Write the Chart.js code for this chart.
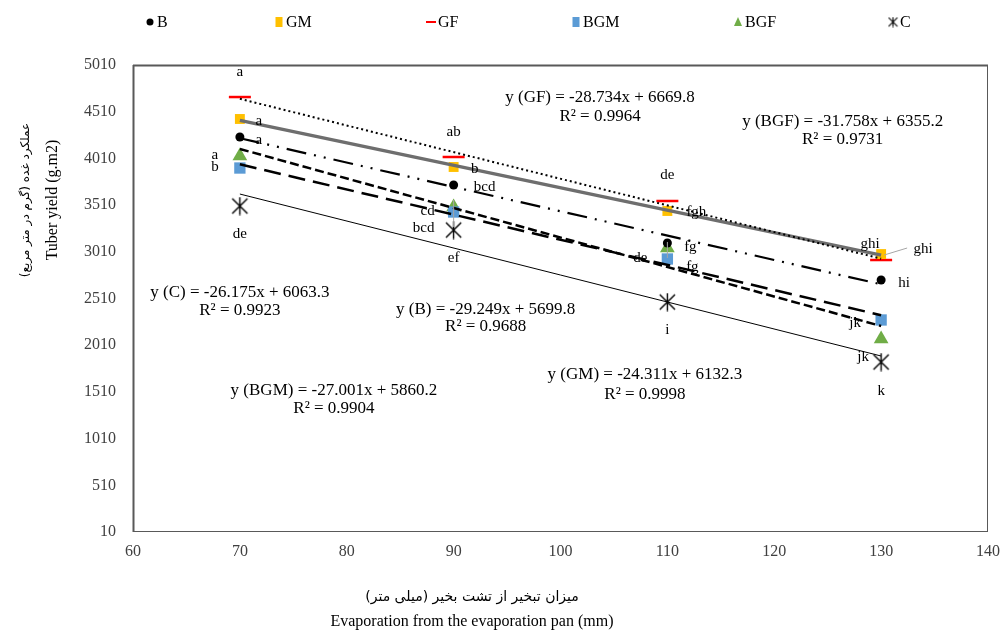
<!DOCTYPE html>
<html>
<head>
<meta charset="utf-8">
<script src="https://cdn.jsdelivr.net/npm/chart.js@4.4.0/dist/chart.umd.min.js"></script>
<style>
  html, body { margin: 0; padding: 0; background: #fff; }
</style>
</head>
<body>
<canvas id="chart" width="1004" height="633"></canvas>
<script>
// evaporation (mm) and tuber yield per treatment
const evap = [70, 90, 110, 130];
const seriesNames = ['B', 'GM', 'GF', 'BGM', 'BGF', 'C'];
const yieldB = [4239, 3725, 3104, 2708];
const yieldGM = [4432, 3918, 3447, 2986];
const yieldGF = [4667, 4025, 3554, 2922];
const yieldBGM = [3907, 3436, 2933, 2280];
const yieldBGF = [4036, 3490, 3051, 2076];
const yieldC = [3500, 3243, 2472, 1830];

// mean comparison letters, one per point
const lettersB = ['a', 'bcd', 'fg', 'hi'];
const lettersGM = ['a', 'b', 'fgh', 'ghi'];
const lettersGF = ['a', 'ab', 'de', 'ghi'];
const lettersBGM = ['b', 'bcd', 'de', 'jk'];
const lettersBGF = ['a', 'cd', 'fg', 'jk'];
const lettersC = ['de', 'ef', 'i', 'k'];

// trendline equations as printed on the chart
const eqGF = ['y (GF) = -28.734x + 6669.8', 'R² = 0.9964'];
const eqBGF = ['y (BGF) = -31.758x + 6355.2', 'R² = 0.9731'];
const eqC = ['y (C) = -26.175x + 6063.3', 'R² = 0.9923'];
const eqB = ['y (B) = -29.249x + 5699.8', 'R² = 0.9688'];
const eqGM = ['y (GM) = -24.311x + 6132.3', 'R² = 0.9998'];
const eqBGM = ['y (BGM) = -27.001x + 5860.2', 'R² = 0.9904'];

const xTicks = [60, 70, 80, 90, 100, 110, 120, 130, 140];
const yTicks = [10, 510, 1010, 1510, 2010, 2510, 3010, 3510, 4010, 4510, 5010];

const yTitle = 'Tuber yield (g.m2)';
const yTitleFa = 'عملکرد غده (گرم در متر مربع)';
const xTitle = 'Evaporation from the evaporation pan (mm)';
const xTitleFa = 'میزان تبخیر از تشت بخیر (میلی متر)';

const SERIF = '"Liberation Serif", "Times New Roman", "DejaVu Sans", serif';
const FA = '"DejaVu Sans", "Noto Sans", sans-serif';

function makeStar(size, lw) {
  const c = document.createElement('canvas');
  c.width = size; c.height = size;
  const g = c.getContext('2d');
  g.strokeStyle = '#000';
  g.lineWidth = lw;
  const m = size / 2, d = size * 0.4;
  g.beginPath();
  g.moveTo(m, 0.5); g.lineTo(m, size - 0.5);
  g.moveTo(m - d, m - d); g.lineTo(m + d, m + d);
  g.moveTo(m + d, m - d); g.lineTo(m - d, m + d);
  g.stroke();
  return c;
}
const starBig = makeStar(19, 1.4);
const starSmall = makeStar(11, 1.1);

function linFit(xs, ys) {
  const n = xs.length;
  const mx = xs.reduce((a, b) => a + b, 0) / n;
  const my = ys.reduce((a, b) => a + b, 0) / n;
  let sxy = 0, sxx = 0;
  for (let i = 0; i < n; i++) {
    sxy += (xs[i] - mx) * (ys[i] - my);
    sxx += (xs[i] - mx) * (xs[i] - mx);
  }
  const slope = sxy / sxx;
  const icpt = my - slope * mx;
  return [xs[0], xs[n - 1]].map(x => ({ x: x, y: slope * x + icpt }));
}

function pts(ys) {
  return evap.map((x, i) => ({ x: x, y: ys[i] }));
}

const series = {
  B: { values: yieldB, letters: lettersB, pointStyle: 'circle', radius: 4.5, color: '#000000' },
  GM: { values: yieldGM, letters: lettersGM, pointStyle: 'rect', radius: 7, color: '#FFC000' },
  GF: { values: yieldGF, letters: lettersGF, pointStyle: 'line', radius: 11, color: '#FF0000' },
  BGM: { values: yieldBGM, letters: lettersBGM, pointStyle: 'rect', radius: 8, color: '#5B9BD5' },
  BGF: { values: yieldBGF, letters: lettersBGF, pointStyle: 'triangle', radius: 8.5, color: '#70AD47' },
  C: { values: yieldC, letters: lettersC, pointStyle: starBig, radius: 9, color: '#000000' }
};

// trendline looks
const trendStyles = [
  { name: 'GF', color: '#000', width: 2, dash: [2, 3] },
  { name: 'GM', color: '#6e6e6e', width: 3.5, dash: [] },
  { name: 'GM', color: '#d4d4d4', width: 1.2, dash: [] },
  { name: 'B', color: '#000', width: 2.2, dash: [20, 8, 2, 8, 2, 8] },
  { name: 'BGF', color: '#000', width: 2.5, dash: [9, 4] },
  { name: 'BGM', color: '#000', width: 2.5, dash: [17, 8] },
  { name: 'C', color: '#000', width: 1, dash: [] }
];

const datasets = [];
trendStyles.forEach(t => {
  datasets.push({
    label: 'trend ' + t.name,
    data: linFit(evap, series[t.name].values),
    showLine: true,
    borderColor: t.color,
    borderWidth: t.width,
    borderDash: t.dash,
    pointRadius: 0,
    order: 0
  });
});
seriesNames.forEach(name => {
  const s = series[name];
  datasets.push({
    label: name,
    data: pts(s.values),
    pointStyle: s.pointStyle,
    pointRadius: s.radius,
    pointBackgroundColor: s.color,
    pointBorderColor: s.color,
    pointBorderWidth: name === 'GF' ? 2.5 : 0,
    showLine: false,
    order: 1
  });
});

// label placement: pixel offsets from each point (text centre)
const letterOffsets = {
  B: [[19, 3], [31, 2], [23, 4], [23, 3]],
  GM: [[19, 2], [21, 2], [29, 1], [-11, -10]],
  GF: [[0, -25], [0, -25], [0, -26], [42, -11]],
  BGM: [[-25, -1], [-30, 16], [-27, -1], [-26, 3]],
  BGF: [[-25, -1], [-26, 4], [25, 19], [-18, 18]],
  C: [[0, 28], [0, 28], [0, 28], [0, 29]]
};
const leaders = [
  { s: 'GF', i: 3, from: [3, -5], to: [26, -12] },
  { s: 'BGF', i: 1, from: [0, -7], to: [0, 20] },
  { s: 'BGF', i: 2, from: [0, -6], to: [0, 10] }
];
// equation anchors in data units: [text, x centre, y line1, y line2]
const eqPlace = [
  [eqGF, 103.7, 4657, 4453],
  [eqBGF, 126.4, 4410, 4207],
  [eqC, 70.0, 2569, 2376],
  [eqB, 93.0, 2397, 2205],
  [eqGM, 107.9, 1691, 1487],
  [eqBGM, 78.8, 1530, 1327]
];
const legendPos = [150, 279, 431, 576, 738, 893];

const framePlugin = {
  id: 'frame',
  beforeDatasetsDraw(chart) {
    const { ctx, chartArea: a } = chart;
    ctx.save();
    ctx.strokeStyle = '#595959';
    ctx.lineWidth = 1;
    ctx.strokeRect(a.left + 0.5, a.top + 0.5, a.right - a.left - 1, a.bottom - a.top - 1);
    ctx.lineWidth = 2;
    ctx.beginPath();
    ctx.moveTo(a.left, a.top + 0.5); ctx.lineTo(a.right, a.top + 0.5);
    ctx.moveTo(a.left + 0.5, a.top); ctx.lineTo(a.left + 0.5, a.bottom);
    ctx.stroke();
    ctx.restore();
  }
};

const textPlugin = {
  id: 'texts',
  afterDatasetsDraw(chart) {
    const { ctx } = chart;
    const xs = chart.scales.x, ys = chart.scales.y;
    ctx.save();

    // leader lines
    ctx.strokeStyle = '#a6a6a6';
    ctx.lineWidth = 1;
    leaders.forEach(l => {
      const px = xs.getPixelForValue(evap[l.i]);
      const py = ys.getPixelForValue(series[l.s].values[l.i]);
      ctx.beginPath();
      ctx.moveTo(px + l.from[0], py + l.from[1]);
      ctx.lineTo(px + l.to[0], py + l.to[1]);
      ctx.stroke();
    });

    // letters
    ctx.fillStyle = '#000';
    ctx.font = '15px ' + SERIF;
    ctx.textAlign = 'center';
    ctx.textBaseline = 'middle';
    seriesNames.forEach(name => {
      const s = series[name];
      s.letters.forEach((txt, i) => {
        const px = xs.getPixelForValue(evap[i]);
        const py = ys.getPixelForValue(s.values[i]);
        const o = letterOffsets[name][i];
        ctx.fillText(txt, px + o[0], py + o[1]);
      });
    });

    // equations
    ctx.font = '17px ' + SERIF;
    eqPlace.forEach(e => {
      const cx = xs.getPixelForValue(e[1]);
      ctx.fillText(e[0][0], cx, ys.getPixelForValue(e[2]));
      ctx.fillText(e[0][1], cx, ys.getPixelForValue(e[3]));
    });

    // axis titles
    ctx.font = '16px ' + SERIF;
    ctx.fillText(xTitle, 472, 622);
    ctx.save();
    ctx.direction = 'rtl';
    ctx.font = '14px ' + FA;
    ctx.fillText(xTitleFa, 472, 597);
    ctx.restore();

    ctx.save();
    ctx.translate(53, 200);
    ctx.rotate(-Math.PI / 2);
    ctx.font = '16px ' + SERIF;
    ctx.fillText(yTitle, 0, 0);
    ctx.restore();
    ctx.save();
    ctx.translate(26, 200);
    ctx.rotate(-Math.PI / 2);
    ctx.direction = 'rtl';
    ctx.font = '12px ' + FA;
    ctx.fillText(yTitleFa, 0, 0);
    ctx.restore();

    // legend
    const ly = 22;
    ctx.font = '16px ' + SERIF;
    ctx.textAlign = 'left';
    seriesNames.forEach((name, k) => {
      const s = series[name];
      const mx = legendPos[k];
      ctx.fillStyle = s.color;
      ctx.strokeStyle = s.color;
      if (name === 'B') {
        ctx.beginPath(); ctx.arc(mx, ly, 3.5, 0, Math.PI * 2); ctx.fill();
      } else if (name === 'GF') {
        ctx.lineWidth = 2;
        ctx.beginPath(); ctx.moveTo(mx - 5, ly); ctx.lineTo(mx + 5, ly); ctx.stroke();
      } else if (name === 'BGF') {
        ctx.beginPath(); ctx.moveTo(mx, ly - 5); ctx.lineTo(mx + 4, ly + 4); ctx.lineTo(mx - 4, ly + 4); ctx.closePath(); ctx.fill();
      } else if (name === 'C') {
        ctx.drawImage(starSmall, mx - 5.5, ly - 5.5);
      } else {
        ctx.fillRect(mx - 3.5, ly - 5, 7, 10);
      }
      ctx.fillStyle = '#000';
      ctx.fillText(name, mx + 7, ly + 1);
    });
    ctx.restore();
  }
};

new Chart(document.getElementById('chart'), {
  type: 'scatter',
  data: { datasets: datasets },
  options: {
    responsive: false,
    animation: false,
    layout: { padding: { top: 65, right: 16, bottom: 0, left: 0 } },
    plugins: { legend: { display: false }, tooltip: { enabled: false } },
    scales: {
      x: {
        type: 'linear',
        min: 60,
        max: 140,
        afterBuildTicks: axis => { axis.ticks = xTicks.map(v => ({ value: v })); },
        afterFit: axis => { axis.height = 633 - 532; axis.paddingLeft = 0; axis.paddingRight = 0; },
        grid: { display: false, drawTicks: false },
        border: { display: false },
        ticks: { font: { family: SERIF, size: 16 }, color: '#404040', padding: 10, maxRotation: 0, callback: v => String(v) }
      },
      y: {
        type: 'linear',
        min: 10,
        max: 5010,
        afterBuildTicks: axis => { axis.ticks = yTicks.map(v => ({ value: v })); },
        afterFit: axis => { axis.width = 133; axis.paddingTop = 0; axis.paddingBottom = 0; },
        grid: { display: false, drawTicks: false },
        border: { display: false },
        ticks: { font: { family: SERIF, size: 16 }, color: '#404040', padding: 17, callback: v => String(v) }
      }
    }
  },
  plugins: [framePlugin, textPlugin]
});
</script>
</body>
</html>
